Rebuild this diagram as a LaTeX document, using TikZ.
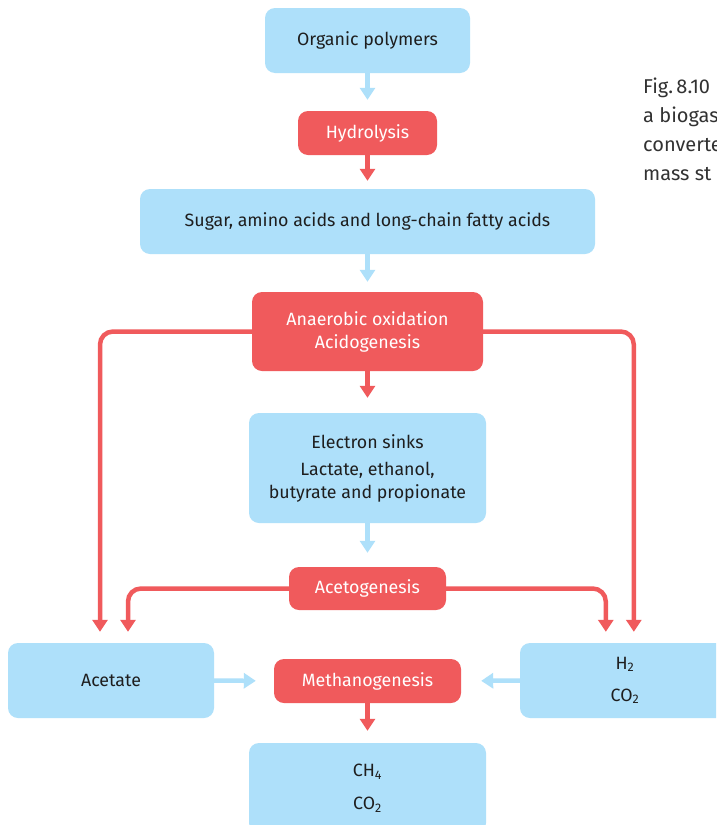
\documentclass[tikz,border=0pt]{standalone}
\usepackage{fontspec}
\setmainfont{Fira Sans}
\usetikzlibrary{arrows.meta}
\definecolor{boxblue}{RGB}{174,224,250}
\definecolor{boxred}{RGB}{240,90,92}
\definecolor{txt}{RGB}{30,30,30}
\definecolor{captxt}{RGB}{50,50,50}
\tikzset{
  base/.style={rounded corners=10pt, align=center, inner sep=0pt, font=\fontsize{17.8}{23}\selectfont},
  bluebox/.style={base, fill=boxblue, text=txt},
  redbox/.style={base, fill=boxred, text=white},
  tip/.style={-{Triangle[width=15pt,length=12pt]}},
  barrow/.style={tip, draw=boxblue, line width=4.5pt},
  rarrow/.style={tip, draw=boxred, line width=4.5pt},
  rbend/.style={rarrow, rounded corners=13pt},
}
\begin{document}
\begin{tikzpicture}[x=1pt,y=-1pt]
\useasboundingbox (0,0) rectangle (716,825);
\clip (0,0) rectangle (716,825);
\fill[white] (0,0) rectangle (716,825);

\node[bluebox, minimum width=205pt, minimum height=65pt] (op) at (367.5,40.5) {Organic polymers};
\node[redbox, minimum width=139pt, minimum height=44pt] (hy) at (367.5,133) {Hydrolysis};
\node[bluebox, minimum width=455pt, minimum height=65pt] (su) at (367.5,221.5) {Sugar, amino acids and long-chain fatty acids};
\node[redbox, minimum width=231pt, minimum height=79pt] (an) at (367.5,331.5) {Anaerobic oxidation\\Acidogenesis};
\node[bluebox, minimum width=237pt, minimum height=110pt] (es) at (367.5,468) {Electron sinks\\[4pt]Lactate, ethanol,\\butyrate and propionate};
\node[redbox, minimum width=157pt, minimum height=43pt] (ag) at (367.5,588.5) {Acetogenesis};
\node[bluebox, minimum width=206pt, minimum height=75pt] (ac) at (111,680.5) {Acetate};
\node[redbox, minimum width=187pt, minimum height=44pt] (me) at (367.5,681) {Methanogenesis};
\node[bluebox, minimum width=210pt, minimum height=75pt] (hc) at (625,680.5) {H\textsubscript{2}\\[9pt]CO\textsubscript{2}};
\node[bluebox, minimum width=237pt, minimum height=90pt] (ch) at (367.5,788) {CH\textsubscript{4}\\[10pt]CO\textsubscript{2}};

\node[anchor=north west, align=left, text=captxt, inner sep=0pt,
      font=\fontsize{20}{29}\selectfont] (cap) at (643,78)
  {Fig.\,8.10\\a biogas\\converted\\mass st};

\draw[barrow, shorten >=11pt] (op.south) -- (hy.north);
\draw[rarrow, shorten >=8pt] (hy.south) -- (su.north);
\draw[barrow, shorten >=10pt] (su.south) -- (an.north);
\draw[rarrow, shorten >=15pt] (an.south) -- (es.north);
\draw[barrow, shorten >=14pt] (es.south) -- (ag.north);
\draw[rarrow, shorten >=12pt] (me.south) -- (ch.north);
\draw[barrow, shorten >=18pt] (ac.east) -- (me.west);
\draw[barrow, shorten >=20pt] (hc.west) -- (me.east);

\draw[rbend, shorten >=11pt] (an.west) -| ([xshift=-11pt]ac.north);
\draw[rbend, shorten >=11pt] (an.east) -| ([xshift=114pt]hc.north west);
\draw[rbend, shorten >=11pt] (ag.west) -| ([xshift=17pt]ac.north);
\draw[rbend, shorten >=11pt] (ag.east) -| ([xshift=86pt]hc.north west);
\end{tikzpicture}
\end{document}
